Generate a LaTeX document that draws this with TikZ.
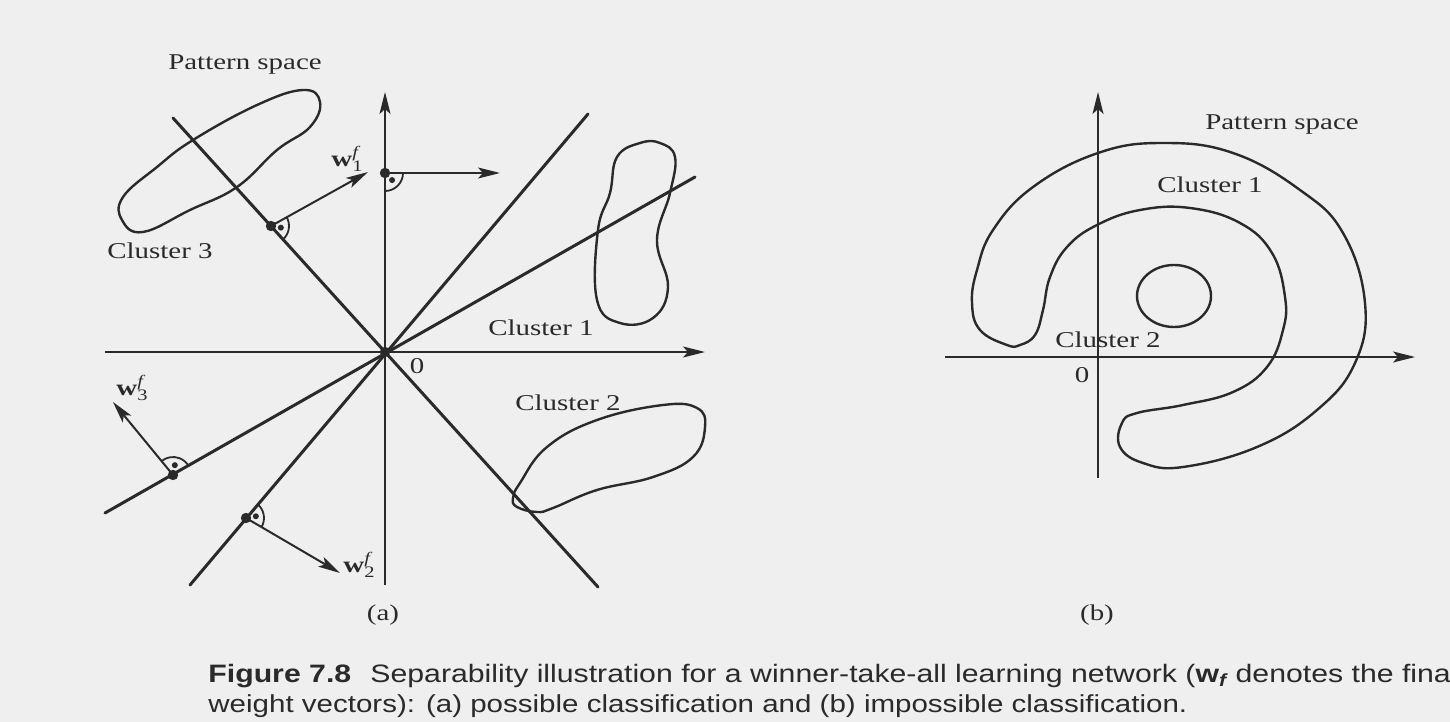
\documentclass[tikz,border=0pt]{standalone}
\usepackage{fontspec}
\setmainfont[FakeStretch=1.28]{Liberation Serif}
\newfontfamily\capfont[FakeStretch=1.2]{Liberation Sans}
\usetikzlibrary{arrows.meta, calc}
\definecolor{paper}{HTML}{EFEFEF}
\definecolor{ink}{HTML}{2A2A2A}
\newcommand{\ortho}[3]{%
  \draw[rmark] (#1) ++(#2:18) arc[start angle=#2, end angle=#3, radius=18];
  \fill[ink] (#1) ++({(#2+#3)/2}:10) circle[radius=1.5pt];
  \fill[ink] (#1) circle[radius=2.6pt];}
\newcommand{\wlbl}[1]{\textbf{w}\makebox[0pt][l]{\raisebox{0.8ex}{\fontsize{8}{8}\selectfont\itshape f}}\raisebox{-0.5ex}{\fontsize{8}{8}\selectfont #1}}

\begin{document}
\begin{tikzpicture}[x=0.5pt, y=-0.5pt,
    divider/.style={line width=1.5pt, ink, line cap=round},
    axis/.style={line width=1pt, ink, -{Stealth[length=11pt, width=5.5pt, inset=2.5pt]}},
    wvec/.style={line width=1pt, ink, -{Stealth[length=11pt, width=5.5pt, inset=2.5pt]}},
    outline/.style={line width=1.2pt, ink},
    rmark/.style={line width=0.9pt, ink},
    txt/.style={font=\fontsize{11.3}{13}\selectfont, text=ink, inner sep=0pt, anchor=base},
    captxt/.style={font=\capfont\fontsize{12.6}{15}\selectfont, text=ink, inner sep=0pt, anchor=base west}]
  \fill[paper] (0,0) rectangle (1450,722);
  \useasboundingbox (0,0) rectangle (1450,722);

  % (a) possible classification
  \coordinate (oA) at (385,352);
  \draw[axis] (385,585) -- (385,92);
  \draw[axis] (105,352) -- (705,352);
  \draw[divider] (173,118) -- (598,587);
  \draw[divider] (190,585) -- (588,114);
  \draw[divider] (105,513) -- (695,177);
  \fill[ink] (oA) circle[radius=2.6pt];

  \draw[outline] plot[smooth cycle, tension=0.7] coordinates {(143,232) (122,220) (123,197) (157,167) (193,140) (257,105) (303,90) (320,102) (310,127) (277,150) (237,187) (190,210)};
  \draw[outline] plot[smooth cycle, tension=0.7] coordinates {(640,143) (617,157) (610,193) (598,230) (597,300) (620,323) (653,318) (668,287) (657,240) (670,193) (675,157) (660,143)};
  \draw[outline] plot[smooth cycle, tension=0.7] coordinates {(513,498) (520,483) (547,447) (597,420) (663,405) (697,408) (705,427) (693,457) (653,477) (597,490) (553,508) (537,512) (517,507)};

  \coordinate (wAxis) at (385,173);
  \coordinate (wAxisTip) at (500,173);
  \coordinate (wOne) at (271,226);
  \coordinate (wOneTip) at (368,172);
  \coordinate (wThree) at (173,475);
  \coordinate (wThreeTip) at (113,402);
  \coordinate (wTwo) at (246,518);
  \coordinate (wTwoTip) at (340,573);
  \draw[wvec] (wAxis) -- (wAxisTip);
  \draw[wvec] (wOne) -- (wOneTip);
  \draw[wvec] (wThree) -- (wThreeTip);
  \draw[wvec] (wTwo) -- (wTwoTip);
  \ortho{wAxis}{0}{90}
  \ortho{wOne}{-29}{48}
  \ortho{wThree}{-129}{-30}
  \ortho{wTwo}{-50}{30}

  \node[txt] (spaceA) at (245,70) {Pattern space};
  \node[txt] (clThreeA) at (160,258) {Cluster 3};
  \node[txt] (clOneA) at (541,335) {Cluster 1};
  \node[txt] (clTwoA) at (568,410) {Cluster 2};
  \node[txt] (zeroA) at (417,373) {0};
  \node[txt] (tagA) at (383,620) {(a)};
  \node[txt, anchor=base west] (wOneLbl) at (331,166) {\wlbl{1}};
  \node[txt, anchor=base west] (wThreeLbl) at (116,395) {\wlbl{3}};
  \node[txt, anchor=base west] (wTwoLbl) at (343,572) {\wlbl{2}};

  % (b) impossible classification
  \coordinate (oB) at (1098,357);
  \draw[axis] (1098,478) -- (1098,92);
  \draw[axis] (945,357) -- (1415,357);
  \draw[outline] (1174,296) ellipse[x radius=37, y radius=31];
  \draw[outline] plot[smooth cycle, tension=0.7] coordinates {(1007,345) (980,330) (972,303) (977,270) (993,230) (1033,187) (1098,153) (1163,143) (1233,153) (1300,190) (1343,233) (1365,303) (1355,363) (1317,410) (1257,447) (1183,467) (1143,463) (1120,447) (1122,423) (1137,413) (1183,405) (1233,392) (1267,367) (1283,330) (1285,297) (1272,253) (1240,223) (1190,208) (1140,210) (1097,225) (1067,247) (1050,277) (1043,310) (1035,335) (1020,345)};

  \node[txt] (spaceB) at (1282,130) {Pattern space};
  \node[txt] (clOneB) at (1210,192) {Cluster 1};
  \node[txt] (clTwoB) at (1108,347) {Cluster 2};
  \node[txt] (zeroB) at (1082,382) {0};
  \node[txt] (tagB) at (1097,620) {(b)};

  % caption
  \node[captxt] (capNum) at (208,682) {\bfseries Figure 7.8};
  \node[captxt] (capOne) at (370,682) {Separability illustration for a winner-take-all learning network (\textbf{w\textsubscript{\itshape f}} denotes the final};
  \node[captxt, font=\capfont\fontsize{12.3}{15}\selectfont] (capTwo) at (208,712) {weight vectors): (a) possible classification and (b) impossible classification.};
\end{tikzpicture}
\end{document}
